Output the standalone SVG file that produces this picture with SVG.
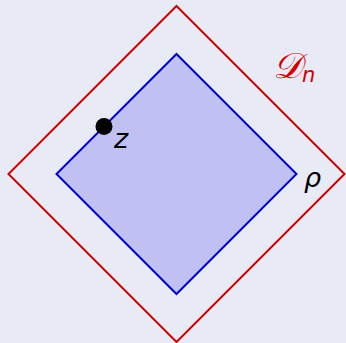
<svg xmlns="http://www.w3.org/2000/svg" width="346" height="343" viewBox="0 0 346 343">
<style>
.outer{fill:none;stroke:#d00000;stroke-width:2}
.inner{fill:#c0c0f2;stroke:#0000cc;stroke-width:2}
.lbl{font-family:"DejaVu Sans","Liberation Sans",sans-serif;font-style:italic;font-size:27px;fill:#000}
</style>
<rect width="346" height="343" fill="#e8eaf6"/>
<g id="outer-domain">
<polygon class="outer" points="176.5,6 344.5,174 176.5,342 8.5,174"/>
<text x="273" y="78" font-family="DejaVu Serif,serif" font-style="italic" font-size="36" fill="#d00000">𝒟<tspan font-family="DejaVu Sans,sans-serif" font-size="21" dy="4">n</tspan></text>
</g>
<g id="inner-domain">
<polygon class="inner" points="176.5,54 296.5,174 176.5,294 56.5,174"/>
<text class="lbl" x="304" y="187">ρ</text>
</g>
<g id="point-z">
<circle cx="104" cy="126.5" r="8.5" fill="#000"/>
<text class="lbl" x="114" y="148">z</text>
</g>
</svg>
